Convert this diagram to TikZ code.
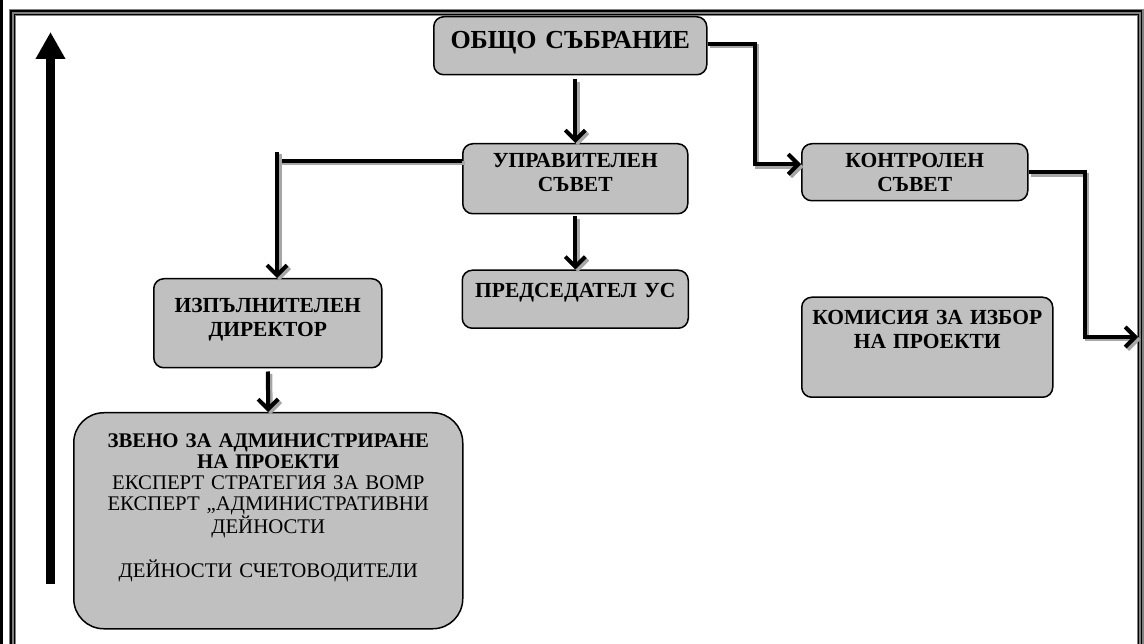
\documentclass[tikz,border=0pt]{standalone}
\usepackage{fontspec}
\setmainfont{Liberation Serif}
\usetikzlibrary{arrows.meta,positioning}
\definecolor{boxgray}{RGB}{192,192,192}
\tikzset{
    %Define standard arrow tip
    >={Straight Barb[length=10pt,width=20pt]},
    %Define style for boxes
    kutiya/.style={
           rectangle,
           rounded corners=10pt,
           draw=black, line width=1.5pt,
           fill=boxgray,
           inner sep=0pt,
           align=center,
           font=\bfseries\fontsize{21.5}{24}\selectfont},
    % Define connector style
    strelka/.style={
           line width=4pt,
           preaction={draw=black!35, line width=4pt,
                      transform canvas={xshift=2.5pt,yshift=-2.5pt}}}
}
\begin{document}
\begin{tikzpicture}[x=1pt, y=-1pt, node distance=55pt]

 \useasboundingbox (0,0) rectangle (1144,644);
 \clip (0,0) rectangle (1144,644);
 % page edge and frame
 \fill[black] (0,0) rectangle (3,644);
 \draw[gray, line width=7pt] (12.5,12.5) rectangle (1140,700);
 \draw[line width=1.3pt] (11,11) rectangle (1141.5,700);
 \draw[line width=1.3pt] (14.5,14.5) rectangle (1138.5,700);

 \node[kutiya, anchor=north west, text width=273pt, text height=32pt, text depth=26pt,
       font=\bfseries\fontsize{26}{28}\selectfont] (obs) at (433,16) {ОБЩО СЪБРАНИЕ};
 \node[kutiya, anchor=north west, text width=225pt, text height=24pt, text depth=46pt]
       (upr) at (462,143) {УПРАВИТЕЛЕН\\СЪВЕТ};
 \node[kutiya, anchor=north west, text width=226pt, text height=24pt, text depth=33pt]
       (kon) at (801,143) {КОНТРОЛЕН\\СЪВЕТ};
 \node[kutiya, below=of upr, text width=226pt, text height=27pt, text depth=31pt]
       (pred) {ПРЕДСЕДАТЕЛ УС};
 \node[kutiya, anchor=north west, text width=228pt, text height=34pt, text depth=55pt]
       (izp) at (153,278) {ИЗПЪЛНИТЕЛЕН\\ДИРЕКТОР};
 \node[kutiya, anchor=north west, rounded corners=30pt, text width=389pt,
       text height=35pt, text depth=181pt, font=\fontsize{20.8}{21}\selectfont]
       (zveno) at (73,412) {\textbf{ЗВЕНО ЗА АДМИНИСТРИРАНЕ}\\\textbf{НА ПРОЕКТИ}\\
       ЕКСПЕРТ СТРАТЕГИЯ ЗА ВОМР\\ЕКСПЕРТ „АДМИНИСТРАТИВНИ\\ДЕЙНОСТИ\\[21pt]
       ДЕЙНОСТИ СЧЕТОВОДИТЕЛИ};
 \node[kutiya, below=95pt of kon.south west, anchor=north west, text width=251pt,
       text height=27pt, text depth=73pt] (kom) {КОМИСИЯ ЗА ИЗБОР\\НА ПРОЕКТИ};

 \coordinate (razkl) at (277,152);
 \coordinate (izhod) at (1138,337);
 \coordinate (osdolu) at (50.5,584);
 \coordinate (osgore) at (50.5,32);

 \draw[strelka,->,shorten <=4pt] (obs.south -| upr.north) -- (upr.north);
 \draw[strelka,->,shorten <=2pt] (upr.south) -- (pred.north);
 \draw[strelka] ([yshift=18pt]upr.west) -| (razkl);
 \draw[strelka,->] (razkl) -- (razkl |- izp.north);
 \draw[strelka,->,shorten <=3pt] (izp.south) -- (zveno.north);
 \draw[strelka,->] ([yshift=2pt]obs.east) -- ++(47,0) |- ([yshift=8pt]kon.west);
 \draw[strelka,->] (kon.east) -- ++(56,0) |- (izhod);

 \draw[line width=9pt, -{Triangle[length=27pt,width=28pt]}] (osdolu) -- (osgore);
\end{tikzpicture}
\end{document}
